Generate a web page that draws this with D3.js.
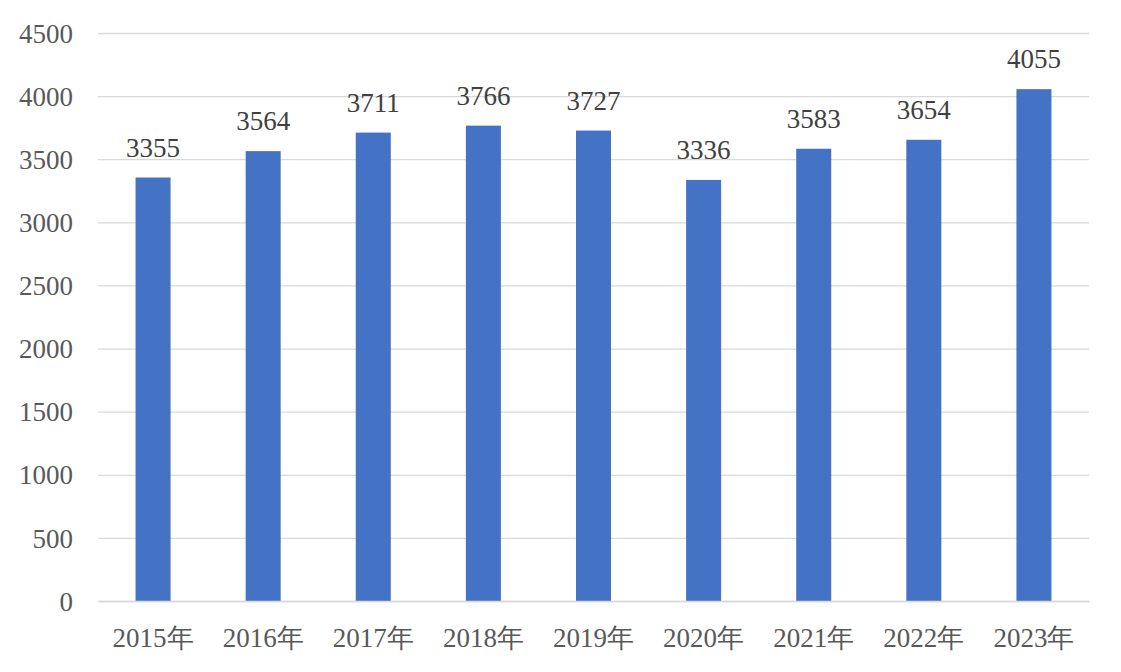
<!DOCTYPE html>
<html><head><meta charset="utf-8">
<script src="https://cdn.jsdelivr.net/npm/d3@7"></script>
<style>body{margin:0;background:#fff}svg{display:block}
text{font-family:"Liberation Serif","Times New Roman",Tinos,serif;}</style>
</head><body>
<svg id="c" width="1121" height="672"></svg>
<script>
const categories = ["2015年","2016年","2017年","2018年","2019年","2020年","2021年","2022年","2023年"];
const values = [3355,3564,3711,3766,3727,3336,3583,3654,4055];
const yTicks = [0,500,1000,1500,2000,2500,3000,3500,4000,4500];

(function(){
const svg = d3.select("#c");
const mLeft = 98, mRight = 1089, mTop = 33, mBottom = 601;
const font = '"Liberation Serif", "Times New Roman", serif';
const fs = "27px";

const x = d3.scaleBand().domain(categories).range([mLeft, mRight]).paddingInner(0.682).paddingOuter(0.341);
const y = d3.scaleLinear().domain([0, 4500]).range([mBottom, mTop]);

// gridlines
const yAxis = d3.axisLeft(y).tickValues(yTicks).tickFormat(d3.format("d")).tickSize(-(mRight - mLeft)).tickPadding(25);
const gy = svg.append("g").attr("transform", `translate(${mLeft},0)`).call(yAxis);
gy.attr("font-family", null).attr("font-size", null);
gy.select(".domain").remove();
gy.selectAll(".tick line").attr("stroke", "#d9d9d9").attr("stroke-width", 1.3);
gy.selectAll(".tick text").attr("fill", "#595959").attr("dy", "0.34em")
  .attr("font-family", font).attr("font-size", fs);

// bars
svg.append("g").selectAll("rect").data(values).join("rect")
  .attr("x", (d, i) => x(categories[i]))
  .attr("width", x.bandwidth())
  .attr("y", d => y(d))
  .attr("height", d => y(0) - y(d))
  .attr("fill", "#4472C4");

// x axis
const xAxis = d3.axisBottom(x).tickSize(0).tickPadding(24);
const gx = svg.append("g").attr("transform", `translate(0,${mBottom})`).call(xAxis);
gx.attr("font-family", null).attr("font-size", null);
gx.select(".domain").attr("stroke", "#d9d9d9").attr("stroke-width", 1.5);
gx.selectAll(".tick text").attr("fill", "#595959").attr("y", 46).attr("dy", "0")
  .attr("font-family", font).attr("font-size", fs);

// data labels
svg.append("g").selectAll("text").data(values).join("text")
  .attr("x", (d, i) => x(categories[i]) + x.bandwidth() / 2)
  .attr("y", d => y(d) - 21)
  .attr("text-anchor", "middle")
  .attr("fill", "#404040")
  .attr("font-family", font).attr("font-size", fs)
  .text(d => d);
})();
</script>
</body></html>
